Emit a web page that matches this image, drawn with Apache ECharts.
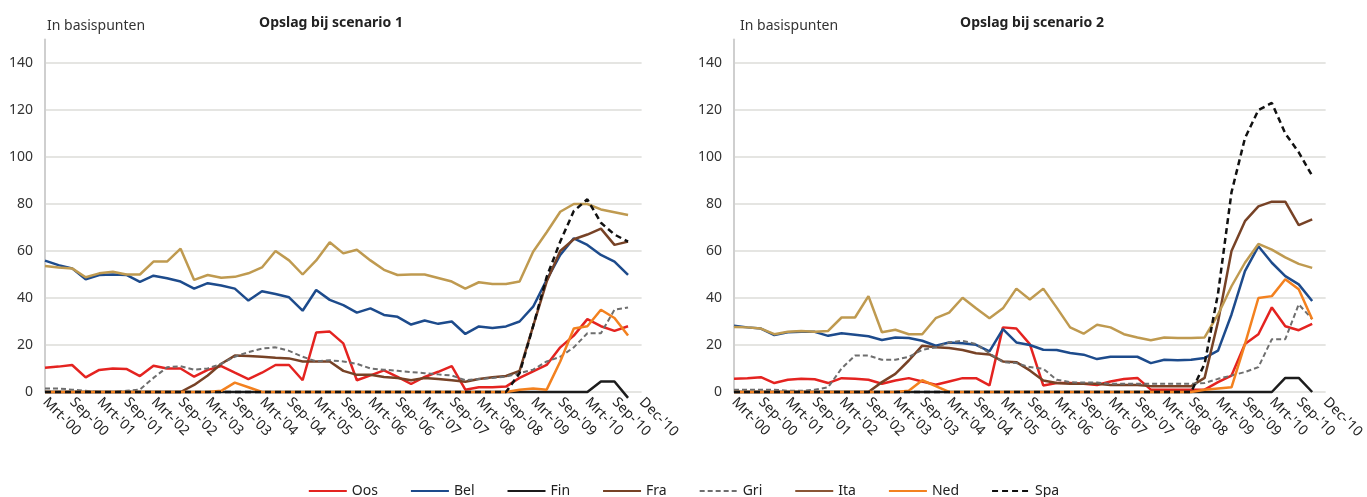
<!DOCTYPE html>
<html>
<head>
<meta charset="utf-8">
<title>Opslag bij scenario 1 en 2</title>
<script src="https://cdn.jsdelivr.net/npm/echarts@6/dist/echarts.min.js"></script>
<style>
  html, body { margin: 0; padding: 0; background: #fff; }
  #chart { width: 1367px; height: 497px; }
</style>
</head>
<body>
<div id="chart"></div>
<script>
// tick labels, one every two quarters
var tickLabels = ["Mrt-'00", "Sep-'00", "Mrt-'01", "Sep-'01", "Mrt-'02", "Sep-'02", "Mrt-'03", "Sep-'03",
  "Mrt-'04", "Sep-'04", "Mrt-'05", "Sep-'05", "Mrt-'06", "Sep-'06", "Mrt-'07", "Sep-'07",
  "Mrt-'08", "Sep-'08", "Mrt-'09", "Sep-'09", "Mrt-'10", "Sep-'10", "Dec-'10"];

var seriesNames = ['Oos', 'Bel', 'Fin', 'Fra', 'Gri', 'Ita', 'Ned', 'Spa'];

// scenario 1 (basispunten, per kwartaal)
var oos1 = [10.3, 10.8, 11.5, 6.2, 9.4, 10, 9.8, 6.8, 11.2, 10, 10, 6.5, 9.4, 11, 8.2, 5.5, 8.2, 11.5, 11.5, 5, 25.3, 25.7, 20.7, 5, 7.1, 9.2, 6.4, 3.4, 6.4, 8.6, 11, 1, 2, 2, 2.3, 6, 8.8, 11.5, 19, 24, 31, 28, 26, 28];
var bel1 = [55.9, 54, 52.6, 48, 49.8, 50, 49.8, 46.9, 49.5, 48.4, 47, 44, 46.3, 45.3, 44, 38.9, 42.9, 41.7, 40.3, 34.6, 43.4, 39.2, 37, 33.8, 35.6, 32.8, 32, 28.7, 30.4, 29, 30, 24.7, 27.9, 27.2, 27.9, 30, 36.3, 47.7, 58.3, 65.4, 62.6, 58.3, 55.5, 49.8];
var fin1 = [0, 0, 0, 0, 0, 0, 0, 0, 0, 0, 0, 0, 0, 0, 0, 0, 0, 0, 0, 0, 0, 0, 0, 0, 0, 0, 0, 0, 0, 0, 0, 0, 0, 0, 0, 0, 0, 0, 0, 0, 0, 4.5, 4.5, -2.5];
var fra1 = [0, 0, 0, 0, 0, 0, 0, 0, 0, 0, 0, 3, 7, 12, 15.5, 15.3, 15, 14.6, 14.3, 13, 13, 13, 9, 7.3, 7.3, 6.4, 6, 5, 6, 5.5, 5, 4.4, 5.5, 6.3, 6.8, 9, 28, 47, 60, 65, 67, 69.5, 62.6, 64];
var gri1 = [1.5, 1.5, 1, 0.5, 0, 0, 0.5, 1, 6, 10.5, 11, 9.5, 10, 12, 15, 17, 18.5, 19, 17.5, 15, 13, 13.5, 13, 12, 10, 9.5, 9, 8.5, 8, 7.5, 7, 5, 5.5, 6, 6.5, 8, 9.5, 13, 15, 19, 25, 25, 35, 36];
var ita1 = [53.6, 53, 52.6, 48.8, 50.5, 51.2, 50, 50, 55.5, 55.5, 61, 47.7, 49.8, 48.6, 49, 50.5, 53, 60, 56, 50, 56, 63.7, 59, 60.5, 56, 52, 49.8, 50, 50, 48.5, 47, 44, 46.7, 46, 46, 47, 59.7, 68, 76.7, 80, 80, 77.7, 76.5, 75.3];
var ned1 = [0, 0, 0, 0, 0, 0, 0, 0, 0, 0, 0, 0, 0, 0.5, 4, 2, 0, 0, 0, 0, 0, 0, 0, 0, 0, 0, 0, 0, 0, 0, 0, 0, 0, 0, 0, 1, 1.5, 1, 13, 27, 28, 35, 31.5, 24];
var spa1 = [0, 0, 0, 0, 0, 0, 0, 0, 0, 0, 0, 0, 0, 0, 0, 0, 0, 0, 0, 0, 0, 0, 0, 0, 0, 0, 0, 0, 0, 0, 0, 0, 0, 0, 0, 8, 28, 49, 64, 77, 82, 72, 67, 64];

// scenario 2
var oos2 = [5.6, 5.9, 6.3, 3.8, 5.2, 5.6, 5.4, 3.8, 5.9, 5.6, 5.2, 3.5, 4.9, 5.9, 4.5, 3.1, 4.5, 5.9, 5.9, 2.8, 27.5, 27, 20.4, 2.8, 3.8, 3.8, 3.5, 3, 4.5, 5.5, 6, 1, 1, 1, 1, 1, 4.2, 7, 20.4, 24.6, 36, 28, 26.3, 29];
var bel2 = [28.2, 27.5, 27, 24.2, 25.4, 25.6, 25.6, 23.9, 25, 24.4, 23.7, 22.1, 23.2, 23, 21.8, 19.7, 21.1, 20.7, 20.1, 17.3, 26.8, 21.1, 20, 18, 17.9, 16.6, 15.9, 14, 15, 15, 15, 12.3, 13.7, 13.5, 13.7, 14.5, 17.6, 33, 51.4, 62, 55, 49.3, 45.8, 38.7];
var fin2 = [0, 0, 0, 0, 0, 0, 0, 0, 0, 0, 0, 0, 0, 0, 0, 0, 0, 0, 0, 0, 0, 0, 0, 0, 0, 0, 0, 0, 0, 0, 0, 0, 0, 0, 0, 0, 0, 0, 0, 0, 0, 6, 6, 0];
var fra2 = [0, 0, 0, 0, 0, 0, 0, 0, 0, 0, 0, 4.2, 7.7, 13.4, 19.7, 19, 18.7, 17.9, 16.5, 16, 13, 12.7, 9.2, 4.9, 3.8, 3.5, 3.5, 3.5, 3, 3, 3, 2.5, 2.5, 2.5, 2.5, 6, 30, 60, 72.7, 79, 81, 81, 71, 73.5];
var gri2 = [1, 1, 1, 1, 0.5, 0.5, 1, 2, 10, 15.5, 15.5, 13.7, 13.7, 15, 17.9, 19, 21.1, 21.8, 20.4, 16.5, 12.7, 12.3, 10.6, 9.9, 5.2, 4.2, 4, 4, 3.5, 3.5, 3.5, 3.5, 3.5, 3.5, 3.5, 3.8, 5.6, 7, 8.5, 10.6, 22.5, 22.5, 37.3, 31];
var ita2 = [27.7, 27.5, 27, 24.6, 25.6, 26, 25.6, 26, 31.7, 31.7, 40.8, 25.4, 26.5, 24.6, 24.6, 31.4, 33.8, 40.1, 35.6, 31.4, 35.6, 44, 39.4, 44, 35.9, 27.5, 24.8, 28.6, 27.5, 24.6, 23.2, 22, 23.2, 23, 23, 23.2, 33, 45, 55, 63, 60.6, 57.3, 54.5, 52.8];
var ned2 = [0, 0, 0, 0, 0, 0, 0, 0, 0, 0, 0, 0, 0, 0.5, 5, 2.5, 0, 0, 0, 0, 0, 0, 0, 0, 0, 0, 0, 0, 0, 0, 0, 0, 0, 0, 0, 1, 1.5, 2, 20.4, 40, 40.8, 48, 43.7, 31];
var spa2 = [0, 0, 0, 0, 0, 0, 0, 0, 0, 0, 0, 0, 0, 0, 0, 0, 0, 0, 0, 0, 0, 0, 0, 0, 0, 0, 0, 0, 0, 0, 0, 0, 0, 0, 0, 12, 42, 85, 108, 120, 123, 110, 102, 92];

var scenario1 = [oos1, bel1, fin1, fra1, gri1, ita1, ned1, spa1];
var scenario2 = [oos2, bel2, fin2, fra2, gri2, ita2, ned2, spa2];

var fontFamily = '"Noto Sans", "DejaVu Sans", sans-serif';

// line styles per country
var lineStyles = {
  Oos: {color: '#e42320', width: 2.5},
  Bel: {color: '#1d4b8c', width: 2.5},
  Fin: {color: '#1c1c1c', width: 2.5},
  Fra: {color: '#774226', width: 2.5},
  Gri: {color: '#6e6e6e', width: 2, type: [5, 3]},
  Ita: {color: '#bf9a50', width: 2.5},
  Ned: {color: '#f3811f', width: 2.5},
  Spa: {color: '#111111', width: 2.5, type: [6, 4]}
};

// category axis: quarterly points, label every other quarter
var categories = [];
for (var k = 0; k < tickLabels.length * 2 - 1; k++) {
  categories.push(k % 2 === 0 ? tickLabels[k / 2] : '');
}

function makeSeries(values, gridIndex) {
  return seriesNames.map(function (name, i) {
    return {
      name: name,
      type: 'line',
      xAxisIndex: gridIndex,
      yAxisIndex: gridIndex,
      data: values[i],
      symbol: 'none',
      clip: false,
      lineStyle: lineStyles[name],
      itemStyle: {color: lineStyles[name].color},
      animation: false
    };
  });
}

function yAxis(gridIndex) {
  return {
    gridIndex: gridIndex,
    type: 'value',
    min: 0,
    max: 150,
    interval: 20,
    axisLine: {show: true, lineStyle: {color: '#cfcfcf', width: 2}},
    axisTick: {show: false},
    axisLabel: {showMaxLabel: false, margin: 12, fontSize: 14, color: '#333', fontFamily: fontFamily},
    splitLine: {show: true, showMaxLine: false, lineStyle: {color: '#dcdcd8', width: 1.5}}
  };
}

function xAxis(gridIndex) {
  return {
    gridIndex: gridIndex,
    type: 'category',
    boundaryGap: false,
    data: categories,
    axisLine: {show: false},
    axisTick: {show: false},
    axisLabel: {interval: 0, rotate: -45, margin: 8, fontSize: 14, color: '#222', fontFamily: fontFamily}
  };
}

var chart = echarts.init(document.getElementById('chart'));
chart.setOption({
  backgroundColor: '#fff',
  title: [
    {text: 'In basispunten', left: 42, top: 14, textStyle: {fontSize: 14, fontWeight: 'normal', color: '#333', fontFamily: fontFamily}},
    {text: 'Opslag bij scenario 1', left: 326, top: 11, textAlign: 'center', textStyle: {fontSize: 14, fontWeight: 'bold', color: '#222', fontFamily: fontFamily}},
    {text: 'In basispunten', left: 735, top: 14, textStyle: {fontSize: 14, fontWeight: 'normal', color: '#333', fontFamily: fontFamily}},
    {text: 'Opslag bij scenario 2', left: 1027, top: 11, textAlign: 'center', textStyle: {fontSize: 14, fontWeight: 'bold', color: '#222', fontFamily: fontFamily}}
  ],
  legend: {
    top: 479,
    left: 'center',
    itemWidth: 38,
    itemHeight: 12,
    itemGap: 32,
    itemStyle: {opacity: 0},
    textStyle: {fontSize: 14, color: '#222', fontFamily: fontFamily},
    data: seriesNames.map(function (name) {
      // the legend key for Ita is drawn in brown in the original
      return name === 'Ita' ? {name: name, lineStyle: {color: '#8a5535', width: 2}} : {name: name};
    })
  },
  grid: [
    {left: 45, top: 39.5, width: 596.6, height: 352.5},
    {left: 734, top: 39.5, width: 595.3, height: 352.5}
  ],
  xAxis: [xAxis(0), xAxis(1)],
  yAxis: [yAxis(0), yAxis(1)],
  series: makeSeries(scenario1, 0).concat(makeSeries(scenario2, 1))
});
</script>
</body>
</html>
